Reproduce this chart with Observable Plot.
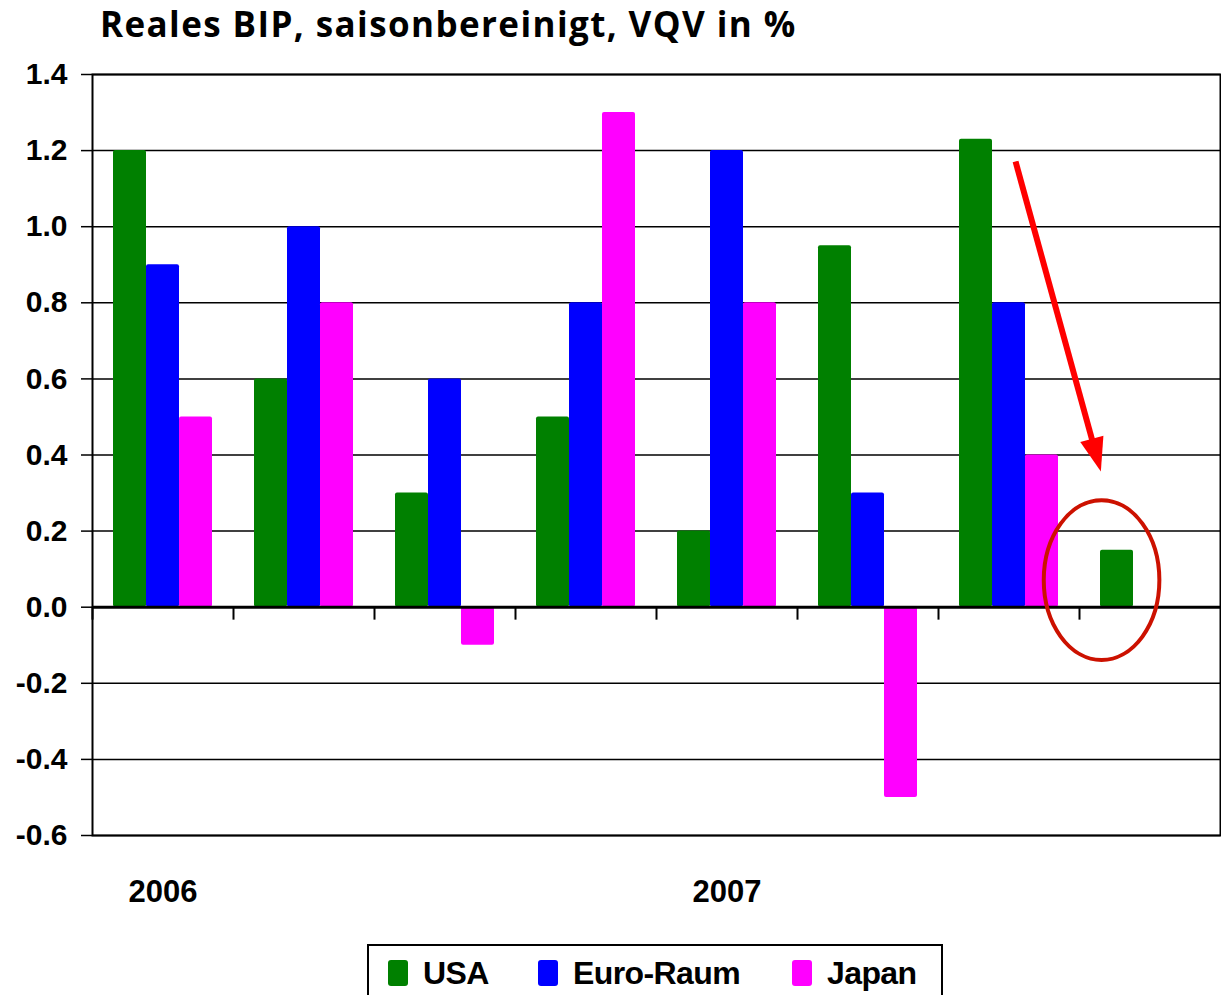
<!DOCTYPE html>
<html>
<head>
<meta charset="utf-8">
<script src="https://cdn.jsdelivr.net/npm/d3@7"></script>
<script src="https://cdn.jsdelivr.net/npm/@observablehq/plot@0.6"></script>
<style>
  html, body { margin: 0; padding: 0; background: #fff; }
  body { width: 1221px; height: 995px; overflow: hidden; position: relative; font-family: "Liberation Sans", Arial, sans-serif; }
  #title { position: absolute; left: 100px; top: 0px; font-family: "Open Sans", sans-serif; font-weight: 700; font-size: 35px; letter-spacing: 1.4px; line-height: 1.362; color: #000; white-space: nowrap; }
  #chart { position: absolute; left: 0; top: 55px; }
  #legend { position: absolute; left: 367px; top: 944px; width: 572px; height: 70px; border: 2px solid #000; box-sizing: content-box; }
  .item { position: absolute; top: 12px; display: flex; align-items: center; height: 30px; }
  .sw { width: 20px; height: 26px; border-radius: 3px; margin-right: 15px; }
  .lab { font-family: "Liberation Sans", Arial, sans-serif; font-weight: 700; font-size: 32px; letter-spacing: -0.6px; line-height: 30px; }
</style>
</head>
<body>
<div id="title">Reales BIP, saisonbereinigt, VQV in %</div>
<div id="chart"></div>
<div id="legend"></div>
<script>
// ---- data ----
const quarters = ["I/06", "II/06", "III/06", "IV/06", "I/07", "II/07", "III/07", "IV/07"];
const seriesNames = ["USA", "Euro-Raum", "Japan"];
const seriesColors = ["#008000", "#0000ff", "#ff00ff"];
const usaValues = [1.2, 0.6, 0.3, 0.5, 0.2, 0.95, 1.23, 0.15];
const euroValues = [0.9, 1.0, 0.6, 0.8, 1.2, 0.3, 0.8, null];
const japanValues = [0.5, 0.8, -0.1, 1.3, 0.8, -0.5, 0.4, null];
const yTickValues = [-0.6, -0.4, -0.2, 0.0, 0.2, 0.4, 0.6, 0.8, 1.0, 1.2, 1.4];
const yearLabels = [{quarter: "I/06", label: "2006"}, {quarter: "I/07", label: "2007"}];
// annotation anchored in data terms (quarter + fraction of its band, value)
const arrowFrom = {quarter: "III/07", frac: 0.55, value: 1.17};
const arrowTo = {quarter: "IV/07", frac: 0.155, value: 0.355};
const ellipseAt = {quarter: "IV/07", frac: 0.16, value: 0.07, rxFrac: 0.41, ryValue: 0.21};

const allValues = [usaValues, euroValues, japanValues];
const rowsBySeries = seriesNames.map((s, si) =>
  quarters.map((q, qi) => ({quarter: q, series: s, value: allValues[si][qi]}))
          .filter(d => d.value != null));

const W = 1221, H = 880;
const mL = 92, mR = 1, mT = 19, mB = 100;
const bandW = (W - mL - mR) / quarters.length;
const barW = 33;
const inset = (bandW - barW) / 2;

const barMarks = rowsBySeries.map((rows, si) =>
  Plot.barY(rows, {
    x: "quarter", y: "value", fill: seriesColors[si],
    insetLeft: inset, insetRight: inset, dx: (si - 1) * barW, rx: 2
  }));

function annotation(index, scales, values, dimensions) {
  const x = scales.x, y = scales.y;
  const bw = (dimensions.width - dimensions.marginLeft - dimensions.marginRight) / quarters.length;
  const px = p => x(p.quarter) + p.frac * bw;
  const g = d3.create("svg:g");
  const x1 = px(arrowFrom), y1 = y(arrowFrom.value);
  const x2 = px(arrowTo), y2 = y(arrowTo.value);
  const ang = Math.atan2(y2 - y1, x2 - x1);
  const headLen = 34, headHalf = 12;
  const bx = x2 - headLen * Math.cos(ang), by = y2 - headLen * Math.sin(ang);
  g.append("line").attr("x1", x1).attr("y1", y1)
    .attr("x2", bx + 2 * Math.cos(ang)).attr("y2", by + 2 * Math.sin(ang))
    .attr("stroke", "#ff0000").attr("stroke-width", 6);
  g.append("polygon").attr("points", [
    [x2, y2],
    [bx + headHalf * Math.sin(ang), by - headHalf * Math.cos(ang)],
    [bx - headHalf * Math.sin(ang), by + headHalf * Math.cos(ang)]
  ].map(p => p.join(",")).join(" ")).attr("fill", "#ff0000");
  const cy = y(ellipseAt.value);
  const ry = Math.abs(y(ellipseAt.value + ellipseAt.ryValue) - cy);
  g.append("ellipse").attr("cx", px(ellipseAt)).attr("cy", cy)
    .attr("rx", ellipseAt.rxFrac * bw).attr("ry", ry)
    .attr("fill", "none").attr("stroke", "#cc1100").attr("stroke-width", 4);
  return g.node();
}

const chart = Plot.plot({
  width: W, height: H,
  marginLeft: mL, marginRight: mR, marginTop: mT, marginBottom: mB,
  style: {fontFamily: "'Liberation Sans', Arial, sans-serif", fontWeight: "bold", fontSize: "30px", color: "#000", background: "#fff"},
  x: {domain: quarters, padding: 0, axis: null, label: null},
  y: {domain: [-0.6, 1.4], axis: null, label: null},
  marks: [
    Plot.ruleY(yTickValues, {stroke: "#000", strokeWidth: 1.5}),
    ...barMarks,
    Plot.ruleY([0], {stroke: "#000", strokeWidth: 3}),
    Plot.ruleX(quarters, {x: d => d, y1: 0, y2: -0.034, dx: -bandW / 2, stroke: "#000", strokeWidth: 2}),
    Plot.frame({stroke: "#000", strokeWidth: 2}),
    Plot.axisY({ticks: yTickValues, tickFormat: d => d.toFixed(1), tickSize: 11, tickPadding: 14, label: null,
      fontSize: 30, fontWeight: "bold", stroke: "#000", strokeWidth: 1.5}),
    Plot.text(yearLabels, {x: "quarter", y: () => -0.6, text: "label", dy: 57, fontSize: 31, fontWeight: "bold", fill: "#000"}),
    annotation
  ]
});
document.getElementById("chart").appendChild(chart);

// legend
const legendLefts = [19, 169, 423];
const legend = document.getElementById("legend");
seriesNames.forEach((s, i) => {
  const item = document.createElement("div");
  item.className = "item";
  item.style.left = legendLefts[i] + "px";
  const sw = document.createElement("div");
  sw.className = "sw"; sw.style.background = seriesColors[i];
  const lab = document.createElement("span");
  lab.className = "lab"; lab.textContent = s;
  item.appendChild(sw); item.appendChild(lab);
  legend.appendChild(item);
});
</script>
</body>
</html>
